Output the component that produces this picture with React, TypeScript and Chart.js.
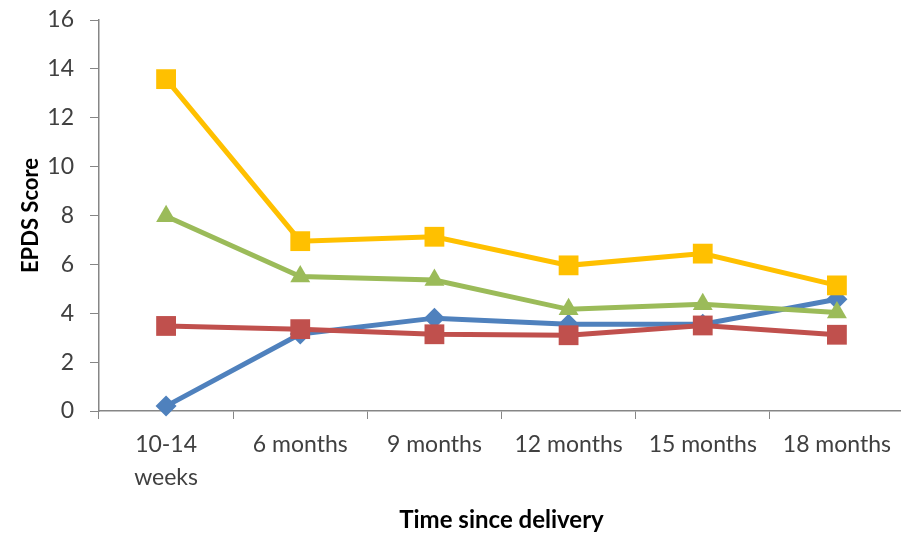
import React, { useEffect, useRef } from "react";
import { Chart, registerables } from "chart.js";

Chart.register(...registerables);

const categories: (string | string[])[] = [["10-14", "weeks"], "6 months", "9 months", "12 months", "15 months", "18 months"];
const blueSeries = [0.2, 3.15, 3.8, 3.55, 3.55, 4.57];
const redSeries = [3.48, 3.35, 3.14, 3.1, 3.5, 3.12];
const greenSeries = [7.97, 5.5, 5.36, 4.16, 4.37, 4.03];
const yellowSeries = [13.58, 6.95, 7.13, 5.96, 6.44, 5.14];
const yTicks = [0, 2, 4, 6, 8, 10, 12, 14, 16];

const FONT = "Lato, 'Open Sans', sans-serif";

export default function App() {
  const ref = useRef<HTMLCanvasElement | null>(null);
  useEffect(() => {
    document.body.style.margin = "0";
    document.body.style.overflow = "hidden";
    document.documentElement.style.overflow = "hidden";
    const ctx = ref.current!;
    const mk = (label: string, data: number[], color: string, style: any, radius: number) => ({
      label,
      data,
      borderColor: color,
      backgroundColor: color,
      borderWidth: 5,
      pointStyle: style,
      pointRadius: radius,
      pointHoverRadius: radius,
      pointBorderWidth: 0,
      pointBackgroundColor: color,
      tension: 0,
      clip: false,
    });
    const chart = new Chart(ctx, {
      type: "line",
      data: {
        labels: categories,
        datasets: [
          mk("Yellow", yellowSeries, "#FFC000", "rect", 14),
          mk("Green", greenSeries, "#9BBB59", "triangle", 11.5),
          mk("Red", redSeries, "#C0504D", "rect", 14),
          mk("Blue", blueSeries, "#4F81BD", "rectRot", 10.5),
        ],
      },
      options: {
        animation: false,
        responsive: false,
        layout: { padding: { top: 20, right: 0, left: 0, bottom: 0 } },
        plugins: { legend: { display: false }, tooltip: { enabled: false } },
        scales: {
          x: {
            offset: true,
            grid: { offset: true, drawOnChartArea: false, drawTicks: true, tickLength: 8, color: "#868686", lineWidth: 1 },
            border: { color: "#868686", width: 1.5 },
            ticks: { color: "#404040", font: { family: FONT, size: 23, lineHeight: 1.45 }, padding: 9, maxRotation: 0, autoSkip: false },
            title: { display: true, text: "Time since delivery", color: "#000", font: { family: FONT, size: 24, weight: "bold" }, padding: { top: 3, bottom: 3 } },
            afterFit: (s: any) => { s.height = 127; },
          },
          y: {
            min: 0,
            max: 16,
            afterBuildTicks: (s: any) => { s.ticks = yTicks.map((v) => ({ value: v })); },
            grid: { drawOnChartArea: false, drawTicks: true, tickLength: 9, color: "#868686" },
            border: { color: "#868686", width: 1.5 },
            ticks: { color: "#404040", font: { family: FONT, size: 23 }, padding: 16 },
            title: { display: true, text: "EPDS Score", color: "#000", font: { family: FONT, size: 22, weight: "bold" }, padding: { top: 18, bottom: 18 } },
            afterFit: (s: any) => { s.width = 99; s.paddingTop = 10; s.paddingBottom = 10; },
          },
        },
      },
    });
    return () => chart.destroy();
  }, []);
  return (
    <div style={{ width: 901, height: 538, overflow: "hidden" }}>
      <canvas ref={ref} width={918} height={538} style={{ display: "block" }} />
    </div>
  );
}
